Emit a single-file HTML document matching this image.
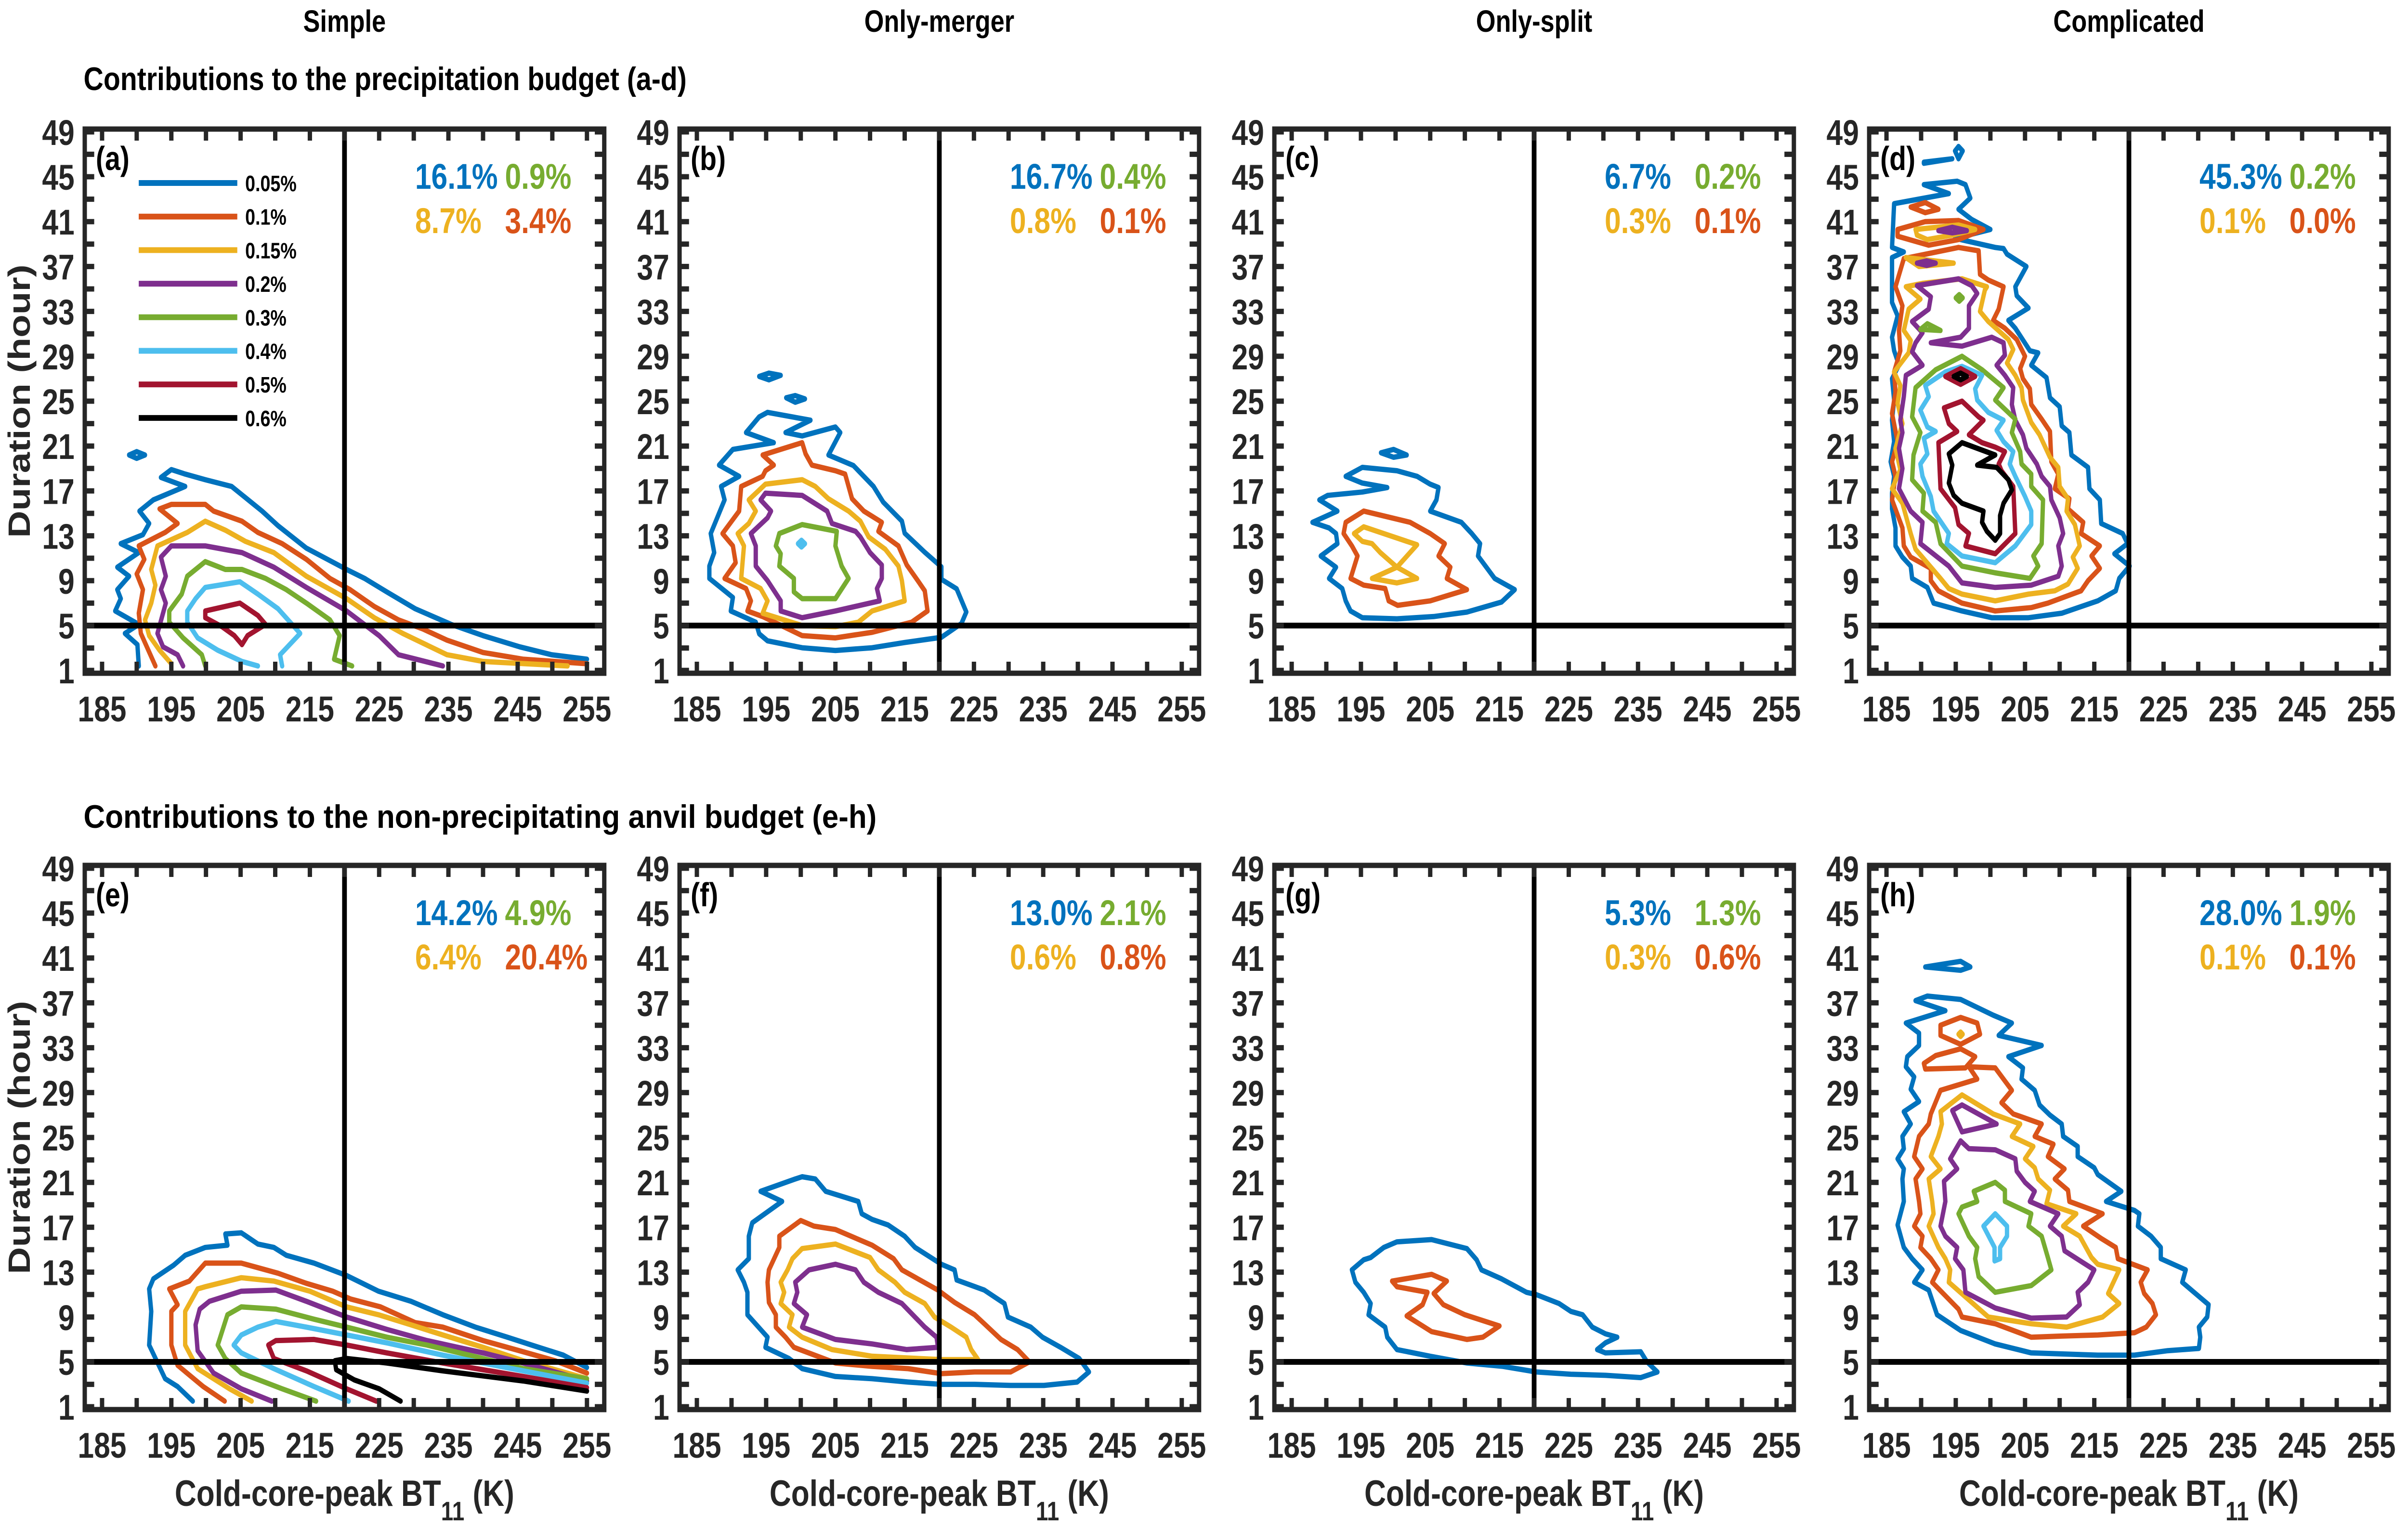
<!DOCTYPE html>
<html><head><meta charset="utf-8">
<style>
html,body{margin:0;padding:0;background:#fff;width:100%;height:100%;overflow:hidden;}
svg{display:block;width:100vw;height:100vh;font-family:"Liberation Sans",Arial,sans-serif;font-weight:bold;overflow:hidden;}
</style></head>
<body>
<svg id="fig" viewBox="0 0 6109 3175" preserveAspectRatio="none" xmlns="http://www.w3.org/2000/svg">
<rect x="0" y="0" width="6109" height="3175" fill="#fff"/>
</svg>
<script>
// ---------- data ----------
const levelLabels = ['0.05%','0.1%','0.15%','0.2%','0.3%','0.4%','0.5%','0.6%'];
const levelColors = ['#0072BD','#D95319','#EDB120','#7E2F8E','#77AC30','#4DBEEE','#A2142F','#000000'];
const columnTitles = ['Simple','Only-merger','Only-split','Complicated'];
const panelLetters = ['(a)','(b)','(c)','(d)','(e)','(f)','(g)','(h)'];
const pctBlue   = ['16.1%','16.7%','6.7%','45.3%','14.2%','13.0%','5.3%','28.0%'];
const pctGreen  = ['0.9%','0.4%','0.2%','0.2%','4.9%','2.1%','1.3%','1.9%'];
const pctYellow = ['8.7%','0.8%','0.3%','0.1%','6.4%','0.6%','0.3%','0.1%'];
const pctOrange = ['3.4%','0.1%','0.1%','0.0%','20.4%','0.8%','0.6%','0.1%'];
const xTicks = [185,195,205,215,225,235,245,255];
const yTicks = [1,5,9,13,17,21,25,29,33,37,41,45,49];
const refX = 220, refY = 5;

// panel (a)
const a0 = [[190.3,1.4],[190.1,3.3],[188.3,4.3],[190.3,5.1],[186.9,6.3],[187.7,7.4],[187.2,8.2],[188.9,9.4],[187.2,10.2],[190.3,11.5],[187.7,12.3],[190.9,13.1],[191.8,14.1],[190.4,15.2],[192.4,16.2],[197.0,17.4],[193.5,18.2],[195.0,18.9],[197.0,18.5],[199.9,18.0],[203.7,17.4],[208.1,15.2],[210.4,13.9],[214.5,11.9],[220.3,10.0],[222.9,9.2],[226.1,8.0],[230.2,6.5],[235.4,5.1],[240.0,4.1],[245.3,3.1],[249.9,2.4],[255,2.0]];
const a0b = [[188.9,20.2],[190,20.5],[191.2,20.2],[190,19.9]];
const a1 = [[192.7,1.4],[190.6,4.3],[190.3,6.1],[190.9,8.2],[190.0,9.6],[191.1,10.9],[190.3,12.1],[194.1,13.3],[195.9,14.1],[193.3,15.4],[195.0,15.8],[199.9,15.8],[201.1,15.2],[205.2,14.3],[207.5,13.3],[211,12.3],[214.5,10.9],[217.9,9.2],[220.8,8.2],[224.3,6.7],[227.8,5.5],[231.3,4.7],[234.8,3.7],[240,2.6],[245.8,2.0],[255,1.6]];
const a2 = [[195,1.6],[193.3,2.8],[191.8,4.1],[191.2,5.5],[192.1,7.0],[192.7,8.6],[192.1,10.0],[193.0,12.1],[197.3,13.3],[199.9,14.3],[202.8,13.5],[205.7,12.5],[209.8,11.5],[214.5,9.4],[220.3,7.4],[224.3,5.7],[228.4,4.3],[234.8,2.4],[240,1.8],[252.2,1.4]];
const a3 = [[196.7,1.4],[195.9,2.4],[193.8,3.1],[193.0,4.3],[194.2,7.0],[193.5,8.2],[194.2,9.4],[193.5,11.1],[195,12.1],[199.9,12.1],[205.2,11.5],[209.8,10.2],[214.5,8.4],[220.3,6.3],[225,4.1],[227.8,2.4],[234.2,1.4]];
const a4 = [[199.9,1.4],[199.4,2.4],[196.7,3.9],[194.7,5.3],[194.7,6.3],[196.5,7.8],[197.3,9.4],[199.9,10.7],[202.8,10.0],[205.2,10.0],[208.6,9.2],[211.6,8.2],[214.5,7.0],[217.9,5.5],[219.3,4.1],[218.5,2.0],[221.1,1.4]];
const a5 = [[207.5,1.4],[205.2,1.8],[201.7,2.8],[198.8,3.9],[197.3,5.3],[197.3,6.3],[198.5,7.4],[199.9,8.4],[204.9,8.9],[207.5,7.8],[210.4,6.5],[213.6,4.3],[210.7,2.4],[211,1.4]];
const a6 = [[199.9,6.3],[204.9,7.0],[207.5,5.9],[208.6,5.1],[206,4.1],[205.2,3.3],[204.1,4.1],[202.3,4.9],[199.9,5.7]];

// panel (b)
const b0 = [[194.0,4.26],[195.2,3.64],[200.2,3.02],[205.0,2.78],[210.3,3.02],[215,3.49],[220.3,3.95],[223.2,5.19],[223.9,6.21],[222.5,8.28],[220.3,9.12],[220.3,10.23],[217.9,11.53],[215,13.23],[214.6,14.31],[211.9,16.0],[210.5,17.4],[207.6,19.26],[204,20.2],[205.7,22.2],[205,22.7],[200.2,21.9],[197.8,22.2],[201.4,23.3],[195.2,24.0],[194,23.6],[192.1,22.2],[196.1,21.3],[190.2,20.7],[188.2,19.3],[191.1,18.3],[188.5,17.4],[189,16.2],[187.0,13.2],[187.5,11.5],[186.8,10.3],[186.8,9.2],[190.2,7.5],[189.9,6.3],[193.5,5.3]];
const b0b = [[194,27.2],[195.4,27.5],[197.1,27.3],[195.4,26.9]];
const b0c = [[197.9,25.3],[199.2,25.5],[200.6,25.2],[199.2,24.9]];
const b1 = [[192.3,6.3],[194.5,5.8],[200.2,4.1],[205.0,3.9],[210.3,4.4],[216.0,5.3],[218.3,6.3],[217.9,8.1],[216.9,9.0],[215.3,10.4],[214.1,12.1],[211.2,13.4],[211.7,14.2],[209.1,15.2],[207.4,16.3],[206.4,18.5],[205,18.8],[201.6,19.3],[200.7,20.3],[200.2,21.3],[194.5,20.2],[196.1,19.3],[194.9,18.8],[194.5,18.3],[191.4,17.4],[191.1,15.2],[188.7,13.2],[190.2,12.1],[190.6,10.6],[189,9.2],[192.1,8.3],[192.8,7.2]];
const b2 = [[194.5,6.1],[200.2,5.0],[205,4.9],[208.3,5.3],[210.3,6.3],[215,7.2],[214.6,9.0],[214.1,10.3],[212.2,11.8],[209.8,12.9],[208.6,14.3],[206.9,15.2],[204,16.3],[202.1,17.4],[200.2,18.0],[194.9,17.6],[192.5,16.2],[193.5,15.2],[192.5,14.1],[190.9,13.2],[191.8,12.1],[191.4,9.2],[194.2,8.3],[195.2,7.2]];
const b3 = [[197.1,6.3],[200.2,5.7],[205,6.3],[211.4,7.2],[211,8.3],[211.7,9.2],[211.7,10.4],[210,11.5],[208.6,12.9],[207.9,13.4],[204.5,14.1],[203.8,15.2],[200.2,16.6],[194.9,16.8],[194.2,16.2],[195.7,15.2],[195.2,14.6],[192.8,13.2],[193.5,12.1],[193.5,10.3],[195.2,9.0],[197.1,7.2]];
const b4 = [[199,8.0],[200.2,7.4],[205,7.4],[206.9,9.2],[205.9,10.3],[205,12.1],[205.2,13.4],[200.2,14.0],[196.9,13.2],[196.4,12.1],[197.1,11.4],[196.9,10.3],[199,9.2]];
const b5 = [[199.6,12.3],[200.1,12.6],[200.6,12.3],[200.1,12.0]];

// panel (c)
const c0 = [[193.5,6.3],[195.2,5.7],[200.2,5.6],[205.5,5.8],[210.3,6.2],[215.3,7.1],[217.2,8.2],[214.3,9.2],[211.9,11.2],[212.2,12.3],[211,13.2],[209.5,14.2],[205,15.2],[205.9,16.2],[206.2,17.3],[205,17.6],[203.1,18.3],[200.2,18.8],[195.2,19.1],[192.8,18.3],[195.2,17.7],[198.8,17.3],[195.2,16.9],[190.2,16.6],[189,16.2],[191.6,15.2],[188,14.2],[190.4,13.7],[191.4,13.2],[191.6,12.3],[189.2,11.2],[191.4,10.2],[190.4,9.2],[192.3,8.3],[192.8,7.2]];
const c0b = [[197.9,20.4],[199.7,20.7],[201.6,20.2],[199.7,20.0]];
const c1 = [[193.5,9.2],[195.4,8.6],[198.5,8.3],[199,7.2],[200.3,6.8],[205,7.2],[210.3,8.2],[207.4,9.2],[207.9,10.2],[206.2,11.2],[207.1,12.3],[205,13.2],[202.1,14.2],[195.4,15.2],[192.8,14.2],[192.5,13.2],[193.7,12.1],[194.5,11.2],[194,10.2]];
const c2 = [[194,13.2],[195.4,13.8],[200.2,12.8],[203.1,12.2],[200.2,10.2],[203.1,9.2],[200.2,8.8],[196.6,9.2],[200.2,10.2],[197.8,11.5],[196.6,12.3],[195.2,12.5]];

// panel (d)
const d0 = [[185.8,15.4],[186.3,13.7],[186.3,12.1],[187.3,11.1],[188.5,10.3],[188.7,9.2],[190.9,8.4],[191.8,7.0],[195.9,6.3],[200.2,5.7],[205.5,5.7],[210.3,6.1],[215.5,7.2],[218.1,8.1],[218.6,9.2],[220.1,10.3],[217.9,11.4],[219.8,12.3],[219.1,13.2],[216,14.1],[215.8,16.2],[214.3,17.2],[214.1,19.1],[211.7,20.2],[211.4,22.2],[210.3,22.8],[210,24.5],[208.6,25.3],[208.1,27.1],[205.9,28.2],[206.9,29.3],[205.7,29.5],[203.6,31.5],[202.6,32.2],[205.5,33.3],[203.8,34.4],[203.6,35.2],[205.2,37.0],[202.4,38.1],[201.9,38.6],[200.7,38.7],[195.7,39.4],[194.9,39.5],[200,40.3],[197.3,41.2],[195.4,42.1],[197.1,43.1],[196.4,44.3],[195.2,44.6],[190.4,44.3],[194,43.5],[186.1,42.6],[185.8,38.7],[187.5,38.3],[185.8,37.8],[185.8,33.8],[186.6,32.6],[185.8,30.7],[186.1,29.5],[186.8,28.2],[185.8,27],[186.1,25.1],[185.8,23.3],[186.1,21.4],[185.6,19.6],[186.1,18.3],[185.8,16.8]];
const d0b = [[194.9,47.3],[195.4,47.7],[196.0,47.3],[195.4,46.6]];
const d0c = [[190.4,46.3],[194.5,46.6],[190.4,46.2]];
const d1 = [[185.8,16.2],[187.3,13.7],[187.5,12.1],[188.5,11.1],[191.4,10.1],[191.4,9.0],[192.5,8.1],[195.9,7.0],[200.7,6.3],[205.9,6.6],[208.3,7.0],[213.1,8.1],[214.1,9.0],[215.8,10.1],[214.6,11.2],[215.8,12.1],[213.1,13.2],[213.4,14.2],[211.2,15.4],[211.4,16.3],[209.3,17.2],[209.8,18.5],[208.8,19.6],[208.6,22.3],[207.4,23.4],[205.9,24.7],[205.7,26.1],[204.7,27.0],[204.3,27.9],[205,29.0],[203.8,30.5],[202.1,31.5],[200.4,32.2],[201.2,33.2],[201.9,35.2],[199.7,35.8],[198.5,36.3],[198.3,38.4],[195.4,38.7],[187.5,37.7],[186.3,35.2],[187.3,33.5],[186.8,31.3],[187,29.5],[186.1,27.6],[186.3,25.8],[185.8,23.9],[186.6,21.4],[185.8,19.6],[186.3,18.3]];
const d1b = [[186.6,40.3],[190.6,41.0],[195.4,41.1],[199,40.3],[195.4,39.4],[191.1,38.9],[186.6,39.7]];
const d1c = [[188.5,42.3],[190.6,42.7],[192.5,42.1],[190.6,41.8]];
const d2 = [[185.8,17.2],[187.3,15.9],[188.5,13.2],[189.2,11.8],[192.8,9.2],[194,8.3],[195.9,7.8],[200.7,7.2],[205.5,7.8],[209.3,8.1],[211.2,8.7],[212.6,10.1],[211.9,11.1],[212.9,12.1],[212.2,14.0],[211,15.2],[211.2,16.3],[210,17.4],[209.8,19.1],[208.6,20.0],[207.1,22.0],[205.9,23.1],[204.7,25.1],[204.5,26.2],[203.6,27.3],[202.4,28.4],[203.3,29.6],[202.6,30.5],[199.7,32.1],[198.5,33.0],[199.2,34.9],[199.5,35.2],[195.9,35.9],[190.2,35.5],[187.8,35.2],[189.9,34.1],[188.2,33.2],[187.5,31.3],[188.5,30.4],[188.2,29.3],[186.1,27.6],[187,26.4],[186.6,24.8],[187.3,23.0],[186.3,20.8],[187,18.9]];
const d2b = [[189.2,40.3],[195.4,40.7],[197.8,40.3],[194.5,39.8],[190.9,39.4],[189.4,39.8]];
const d2c = [[187.8,37.8],[194.7,37.3],[189.7,37.0]];
const d3 = [[186.8,17.2],[188.5,15.2],[190.2,14.2],[189.9,12.3],[194,10.3],[195.9,8.8],[200.7,8.4],[205.9,8.6],[209.8,9.4],[210.3,10.3],[209.8,12.1],[210.5,13.2],[210,14.6],[208.8,16.2],[208.6,17.4],[207.4,18.3],[206.7,19.4],[205.2,20.8],[204.7,22.0],[203.6,23.3],[203.1,24.7],[203.3,26.2],[202.1,27.3],[200.9,28.2],[202.1,29.1],[201.9,30.2],[200.2,30.7],[195.9,29.9],[191.4,30.2],[195.7,30.7],[196.9,31.5],[196.9,33.5],[198.1,34.6],[197.3,35.3],[195.4,35.9],[189.4,35.3],[191.4,34.3],[191.1,33.2],[188.7,32.1],[190.2,31.1],[189.2,30.2],[188.7,29.4],[190.2,28.2],[187.8,27.3],[187.5,25.4],[187,23.3],[187.3,22.2],[186.8,20.8],[187.3,19.0]];
const d3b = [[192.5,40.2],[194.5,40.5],[196.6,40.2],[194.5,40.0]];
const d3c = [[189.4,37.3],[190.8,37.5],[192.1,37.3],[190.8,37.1]];
const d4 = [[188.7,18.0],[190.4,16.8],[190.2,15.2],[192.1,14.2],[192.8,12.3],[195.9,10.3],[200.7,9.7],[205.7,9.2],[206.9,10.3],[206.2,11.2],[207.4,12.3],[207.6,16.2],[205.9,17.4],[205.9,18.5],[204.5,19.4],[204.3,20.5],[203.1,22.2],[203.6,23.4],[200.7,25.1],[201.9,26.2],[198.8,27.8],[195.9,29.0],[192.1,27.8],[189.2,26.2],[188.7,23.6],[189.9,22.2],[188.9,20.2]];
const d4b = [[195.0,34.2],[195.5,34.5],[196.0,34.2],[195.5,33.9]];
const d4c = [[189.9,31.4],[190.9,31.9],[192.8,31.3]];
const d5 = [[190.2,18.3],[191.4,16.5],[191.8,15.2],[194,13.2],[193.7,12.3],[195.9,11.2],[200.7,10.6],[203.6,12.1],[205.9,14.0],[205.9,15.2],[205,16.5],[203.6,18.3],[202.8,19.4],[203.3,20.5],[201.9,21.4],[200.9,22.4],[201.9,23.3],[199.7,24.0],[198.1,25.1],[197.8,26.1],[198.8,27.3],[195.9,28.1],[193.5,27.6],[190.6,26.4],[191.1,25.4],[189.9,24.2],[190.9,22.7],[192.1,22.3],[190.4,21.7],[190.9,20.3],[189.9,19.4]];
const d6 = [[192.5,21.3],[192.8,17.2],[194.9,15.5],[195.4,14.0],[196.9,13.2],[196.4,12.1],[200.7,11.4],[203.6,13.2],[203.3,17.4],[201.6,18.8],[201.2,19.4],[202.1,20.5],[200.7,20.9],[198.8,21.3],[196.9,22.0],[199,23.3],[198.3,23.6],[195.9,25.0],[193.3,24.4],[194,23.0],[195.2,22.3]];
const d6b = [[193.5,27.2],[195.7,27.9],[197.8,27.2],[195.7,26.5]];
const d7 = [[194,20.3],[195.9,21.3],[200.7,20.2],[198.1,19.3],[200.9,19.1],[202.6,18.0],[203.1,17.1],[201.9,15.9],[201.4,14.8],[201.4,13.2],[200.7,12.6],[199.5,13.4],[198.8,14.2],[199,15.2],[195.9,15.9],[194.7,16.6],[194,17.7],[194.5,19.3]];
const d7b = [[194.7,27.2],[195.7,27.5],[196.6,27.2],[195.7,26.9]];

// panel (e)
const e0 = [[198.1,1.5],[195.9,2.8],[194.1,3.5],[191.8,6.5],[192.1,9.5],[191.8,11.5],[192.4,12.4],[195.3,13.6],[197,14.5],[199.9,15.2],[203.1,15.4],[202.8,16.4],[205.1,16.5],[207.5,15.5],[209.8,15.2],[211.6,14.5],[215.6,13.8],[220.3,12.7],[224.9,11.3],[229.6,10.4],[234.2,9.2],[238.9,8.1],[243.5,7.2],[247,6.5],[251.6,5.6],[255,4.5]];
const e1 = [[202.7,1.5],[199.6,2.8],[195.9,4.7],[195,6.5],[195,9.5],[195.9,10.1],[194.7,11.5],[197.6,12.2],[199.9,13.8],[205.1,13.8],[210.4,12.9],[214.5,12.0],[218.3,11.3],[220.9,10.6],[225.2,9.9],[230.2,8.5],[234.2,8.1],[240,6.9],[245.8,5.9],[250.4,5.1],[255,4.0]];
const e2 = [[206.6,1.5],[203.4,2.6],[198.8,4.4],[197,6.5],[197,9.5],[198.8,11.5],[199.9,11.7],[205.1,12.5],[209.8,12.2],[215,11.3],[220.3,9.9],[224.9,9.2],[229.6,8.3],[234.2,7.4],[240,6.3],[245.8,5.1],[255,3.5]];
const e3 = [[209.5,1.5],[205.1,2.6],[201.1,4.0],[198.8,6.0],[198.5,8.3],[199.1,9.7],[200.5,10.4],[205.1,11.3],[210.1,11.4],[214.5,10.4],[220.3,9.0],[226.1,7.9],[231.9,6.9],[240,5.8],[245.8,4.9],[255,3.3]];
const e4 = [[215.9,1.5],[211,2.6],[205.1,4.0],[202.8,5.3],[201.7,6.5],[203.1,9.2],[205.1,9.9],[210.1,9.7],[215.6,8.8],[220.3,8.1],[226.1,7.2],[231.9,6.5],[240,5.3],[245.8,4.4],[255,3.5]];
const e5 = [[220.6,1.5],[215.6,2.8],[209.8,4.4],[205.1,5.8],[204,6.5],[205.1,7.4],[207.5,8.1],[210.1,8.6],[214.5,8.1],[220.3,7.4],[226.1,6.7],[234.2,5.6],[245.8,4.2],[255,3.1]];
const e6 = [[224.6,1.5],[220.3,2.6],[214.5,4.2],[209.8,5.3],[209,6.5],[210.1,6.9],[215.6,7.0],[220.3,6.5],[226.1,5.8],[234.2,4.9],[245.8,3.7],[255,2.7]];
const e7 = [[228.1,1.5],[225.0,2.6],[221.4,3.4],[218.8,4.3],[218.6,5.1],[220.3,5.3],[226.1,4.9],[234.2,4.2],[245.8,3.3],[255,2.4]];

// panel (f)
const f0 = [[194.9,6.3],[198.3,5.3],[200.2,4.4],[205,3.7],[210.3,3.5],[215.5,3.2],[220.3,3.0],[225.1,3.0],[230.3,2.9],[235.1,2.9],[239.9,3.2],[241.6,4.1],[240.2,5.3],[237.5,6.3],[234.9,7.2],[233.2,8.1],[229.9,9.0],[229.4,10.2],[226.5,11.4],[222.5,12.3],[222.2,13.2],[220.3,13.7],[216.5,15.2],[215,16.2],[212.6,17.2],[210.3,17.7],[208.8,18.2],[208.3,19.3],[203.6,20.2],[202.1,21.3],[200.2,21.5],[199.2,21.3],[194.2,20.2],[197.3,19.3],[193,17.4],[192.5,16.2],[192.5,14.2],[190.9,13.2],[191.8,12.1],[192.3,11.2],[192.3,9.2],[195.2,7.2]];
const f1 = [[199,6.3],[205,4.9],[210.3,4.6],[215.5,4.4],[220.3,3.95],[225.1,4.1],[230.3,4.1],[233,5.0],[231.3,6.1],[228.9,7.0],[226.5,8.4],[225.1,9.2],[222.2,10.3],[219.8,11.4],[214.6,13.2],[213.4,14.2],[210.3,15.4],[205,16.8],[201.9,17.1],[200,17.6],[196.9,16.2],[196.9,15.2],[195.4,13.2],[195.2,12.1],[195.4,10.3],[196.4,9.2],[196.4,8.1],[197.8,7.2]];
const f2 = [[198.3,8.1],[200.2,7.2],[204.5,6.1],[210.3,5.5],[220.3,5.2],[225.6,5.2],[224.6,6.1],[223.9,7.2],[221.7,8.1],[219.3,9.0],[217.9,10.2],[215,11.2],[213.6,12.1],[211.2,13.2],[210,14.3],[205,15.5],[200.2,15.1],[198.8,14.2],[198.1,13.2],[197.1,12.1],[197.6,11.2],[197.1,10.2],[198.8,9.2]];
const f3 = [[200.2,8.1],[205,7.0],[210.3,6.6],[215.3,6.1],[219.8,6.3],[219.6,7.2],[217.9,8.1],[214.6,10.2],[211.2,11.2],[209.1,12.1],[207.9,13.2],[205,13.7],[201.2,13.2],[199.2,12.1],[199.5,11.2],[199,10.2],[200.9,9.2]];

// panel (g)
const g0 = [[193.7,13.2],[195.4,14.1],[196.4,14.3],[198.3,15.2],[200.2,15.7],[205.2,15.9],[210.3,15.1],[211.7,14.1],[212.4,13.2],[215.3,12.4],[218.9,11.2],[220.3,11.0],[223.6,10.2],[225.3,9.5],[227,9.2],[228.4,8.1],[230.3,7.5],[232,7.2],[230.3,6.7],[229.1,6.1],[230.3,5.8],[235.4,5.9],[236.3,5.0],[237.8,4.1],[235.4,3.6],[230.3,3.8],[225.3,3.9],[220.3,4.1],[215.5,4.6],[210.3,4.9],[205,5.5],[200.2,6.1],[198.8,7.2],[198.5,8.1],[196.1,9.2],[196.4,10.2],[195.4,11.2],[194.2,12.1]];
const g1 = [[199.5,12.2],[205.2,12.8],[207.4,12.2],[205.5,11.1],[206.9,10.1],[210,9.2],[215,8.2],[212.6,7.2],[210.3,7.0],[205.2,7.7],[201.6,9.1],[203.9,10.1],[204.6,11.2],[200.2,11.7]];

// panel (h)
const h0 = [[187.5,15.2],[188.7,14.2],[190.2,13.2],[189,12.1],[191.1,11.4],[192.3,9.2],[195.7,7.8],[200.7,6.6],[205.9,5.8],[215.5,5.6],[220.8,5.6],[225.6,6.0],[230.1,6.2],[230.3,7.2],[230.1,8.1],[231.3,9.0],[231.5,10.1],[229.4,11.2],[227.7,12.1],[228.2,13.2],[224.6,14.2],[224.6,15.2],[223.2,16.2],[221.3,17.1],[221.5,18.2],[220.8,18.5],[216.7,19.3],[218.9,20.2],[215.5,21.7],[215,22.3],[212.6,23.3],[212.6,24.2],[210.5,25.1],[210.3,26.2],[208.6,27.0],[207.1,27.9],[206.4,29.2],[204.5,30.2],[204.7,31.2],[202.6,32.2],[207.4,33.2],[201.2,34.1],[203.1,35.2],[200.4,35.9],[195.7,37.3],[190.9,37.6],[189.2,37.2],[193.5,36.3],[187.8,35.2],[189.7,34.3],[189.7,33.2],[188,32.2],[187.8,31.3],[189,30.4],[188.5,29.3],[189.7,28.2],[187.5,27.3],[188.5,26.2],[187.3,25.1],[187.5,24.0],[186.6,23.1],[187.5,22.2],[187.3,21.3],[187.5,19.3],[186.6,17.2]];
const h0b = [[190.6,40.2],[195.7,40.7],[197.1,40.2],[195.7,39.9]];
const h1 = [[191.6,12.1],[195.4,9.7],[195.9,9.0],[200.7,8.4],[205.9,7.2],[210.3,7.3],[215.5,7.4],[220.8,7.6],[222.5,8.1],[223.9,9.2],[223.4,10.2],[222.2,11.1],[221.7,12.1],[222.7,13.2],[218.4,14.2],[218.1,15.2],[216,16.0],[213.4,17.1],[216.2,18.2],[211.4,19.3],[211.2,20.3],[209.3,21.3],[210.7,22.2],[208.3,23.3],[209.1,24.4],[206.4,25.1],[207.4,26.2],[203.3,27.1],[201.6,28.1],[203.1,29.2],[201.9,30.2],[200.7,31.2],[196.9,31.3],[198.1,30.2],[192.8,29.2],[191.4,27.1],[191.1,26.2],[189.7,25.1],[189,23.3],[190.2,22.2],[189.2,21.3],[189.7,19.3],[189.9,18.2],[189,17.1],[190.2,16.2],[189.9,15.2],[191.4,14.2],[192.5,13.2]];
const h1b = [[190.6,31.1],[190.4,31.6],[192.1,32.3],[195.7,32.9],[197.8,32.2],[196.4,31.2]];
const h1c = [[192.8,35.0],[192.8,34.1],[195.7,33.3],[198.5,34.2],[198.1,35.2],[195.7,35.7]];
const h2 = [[194,12.1],[199.7,9.0],[205.9,8.4],[211,8.1],[216.2,9.0],[218.6,10.2],[217,11.1],[218.6,13.2],[215.5,13.7],[214.6,14.3],[212.9,16.2],[210.5,17.1],[212.4,18.2],[208.1,19.1],[208.6,20.3],[206.9,21.3],[206.4,22.3],[205,23.1],[206.2,24.2],[203.1,25.1],[204.3,26.2],[200.4,27.1],[195.9,28.8],[192.8,27.3],[193,26.2],[192.5,25.1],[191.4,23.3],[192.8,22.2],[191.1,21.3],[191.6,19.3],[191.8,18.2],[191.1,17.1],[192.5,15.2],[193.5,14.2],[194.2,13.2]];
const h2b = [[195.4,34.2],[195.7,34.4],[196.0,34.2],[195.7,34.0]];
const h3 = [[196.4,11.2],[200.7,9.8],[205.9,8.9],[211,9.0],[212.9,10.1],[212.6,11.2],[214.1,12.1],[215,13.2],[210.7,14.9],[210.3,16.2],[208.6,17.1],[209.8,18.2],[205.7,19.3],[206.4,20.2],[205,21.0],[203.8,22.0],[203.6,23.1],[200.7,23.9],[196.9,24.0],[195.7,24.7],[194.2,23.1],[195.2,22.2],[193.3,21.1],[193.5,19.3],[192.8,17.1],[193.5,16.2],[195.2,15.2],[194.9,14.2],[196.1,13.2]];
const h3b = [[194.5,27.4],[195.9,27.9],[200.9,26.2],[195.9,25.5]];
const h4 = [[198.3,12.6],[200.7,11.2],[205.9,11.8],[208.8,13.2],[208.3,14.3],[207.4,16.2],[205.5,17.1],[205.9,18.2],[202.1,19.3],[202.1,20.3],[200.7,21.0],[197.6,20.2],[198.1,19.3],[195.9,18.8],[195.4,18.2],[196.9,16.2],[198.1,15.2],[197.8,14.2]];
const h5 = [[199,17.1],[200.7,18.2],[202.4,17.1],[202.4,16.2],[201.4,15.2],[201.4,14.2],[200.6,14.0],[200.6,15.2]];

// [points, level index, closed]
const panelContours = [
  [[a0,0,0],[a0b,0,1],[a1,1,0],[a2,2,0],[a3,3,0],[a4,4,0],[a5,5,0],[a6,6,1]],
  [[b0,0,1],[b0b,0,1],[b0c,0,1],[b1,1,1],[b2,2,1],[b3,3,1],[b4,4,1],[b5,5,1]],
  [[c0,0,1],[c0b,0,1],[c1,1,1],[c2,2,1]],
  [[d0,0,1],[d0b,0,1],[d0c,0,1],[d1,1,1],[d1b,1,1],[d1c,1,1],[d2,2,1],[d2b,2,1],[d2c,2,1],[d3,3,1],[d3b,3,1],[d3c,3,1],[d4,4,1],[d4b,4,1],[d4c,4,1],[d5,5,1],[d6,6,1],[d6b,6,1],[d7,7,1],[d7b,7,1]],
  [[e0,0,0],[e1,1,0],[e2,2,0],[e3,3,0],[e4,4,0],[e5,5,0],[e6,6,0],[e7,7,0]],
  [[f0,0,1],[f1,1,1],[f2,2,1],[f3,3,1]],
  [[g0,0,1],[g1,1,1]],
  [[h0,0,1],[h0b,0,1],[h1,1,1],[h1b,1,1],[h1c,1,1],[h2,2,1],[h2b,2,1],[h3,3,1],[h3b,3,1],[h4,4,1],[h5,5,1]]
];

// ---------- layout ----------
const NS = 'http://www.w3.org/2000/svg';
const svg = document.getElementById('fig');
const PL = [215,1724,3233,4742], PT = [268,1797], PW = 1318, PH = 1130;
const XMIN = 182.5, XMAX = 257.5, YMIN = 0.75, YMAX = 49.25;
const AX = '#262626';
function mk(tag, attrs, parent){ const e=document.createElementNS(NS,tag); for(const k in attrs) e.setAttribute(k,attrs[k]); (parent||svg).appendChild(e); return e; }
function txt(s, attrs, parent){ const e=mk('text',attrs,parent); e.textContent=s; return e; }

columnTitles.forEach((t,i)=>{
  const e = txt(t,{x:PL[i]+PW/2,y:66,'font-size':64,'text-anchor':'middle',fill:'#000'});
  
  
});
let st = txt('Contributions to the precipitation budget (a-d)',{x:212,y:187,'font-size':68,fill:'#000',textLength:1530,lengthAdjust:'spacingAndGlyphs'});


st = txt('Contributions to the non-precipitating anvil budget  (e-h)',{x:212,y:1719,'font-size':68,fill:'#000',textLength:2012,lengthAdjust:'spacingAndGlyphs','xml:space':'preserve'});



for(let p=0;p<8;p++){
  const col = p%4, row = Math.floor(p/4);
  const L = PL[col], T = PT[row];
  const sx = v => L + (v-XMIN)/(XMAX-XMIN)*PW;
  const sy = v => T + (YMAX-v)/(YMAX-YMIN)*PH;
  const g = mk('g',{});
  
  
  const cid = 'clip'+p;
  const cp = mk('clipPath',{id:cid},g);
  mk('rect',{x:L,y:T,width:PW,height:PH},cp);

  const cg = mk('g',{'clip-path':'url(#'+cid+')'},g);
  panelContours[p].forEach(([pts,lev,closed],k)=>{
    const d = pts.map((q,i)=>(i?'L':'M')+sx(q[0]).toFixed(1)+' '+sy(q[1]).toFixed(1)).join(' ')+(closed?' Z':'');
    const path = mk('path',{d:d,fill:'none',stroke:levelColors[lev],'stroke-width':11,'stroke-linejoin':'round','stroke-linecap':'round'},cg);
    
    
  });
  const rv = mk('line',{x1:sx(refX),x2:sx(refX),y1:T,y2:T+PH,stroke:'#000','stroke-width':12},g);
  
  
  const rh = mk('line',{x1:L,x2:L+PW,y1:sy(refY),y2:sy(refY),stroke:'#000','stroke-width':12},g);
  
  

  let td='';
  for(let v=185; v<=255; v+=5){ const x=sx(v); td+=`M${x} ${T+PH}V${T+PH-24}M${x} ${T}V${T+24}`; }
  for(let v=1; v<=49; v+=2){ const y=sy(v); td+=`M${L} ${y}H${L+24}M${L+PW} ${y}H${L+PW-24}`; }
  const tk = mk('path',{d:td,stroke:AX,'stroke-width':11,fill:'none'},g);
  
  
  const fr = mk('rect',{x:L,y:T,width:PW,height:PH,fill:'none',stroke:AX,'stroke-width':11},g);
  
  

  xTicks.forEach(v=>{
    const e = txt(String(v),{x:sx(v),y:T+PH+100,'font-size':74,'text-anchor':'middle',fill:AX},g);
    
    
  });
  yTicks.forEach(v=>{
    const e = txt(String(v),{x:L-26,y:sy(v)+27,'font-size':74,'text-anchor':'end',fill:AX},g);
    
    
  });

  const pl = txt(panelLetters[p],{x:L+28,y:T+85,'font-size':70,fill:'#000'},g);
  
  

  const pcs = [[pctBlue[p],levelColors[0],838,124],[pctGreen[p],levelColors[4],1066,124],[pctYellow[p],levelColors[2],838,216],[pctOrange[p],levelColors[1],1066,216]];
  pcs.forEach(([s,c,dx,dy])=>{
    const e = txt(s,{x:L+dx,y:T+dy,'font-size':74,fill:c},g);
    
    
  });

  if(col===0){
    const cy = T+PH/2;
    const yt = txt('Duration (hour)',{x:48,y:cy,'font-size':78,'text-anchor':'middle',fill:AX,transform:`rotate(-90 48 ${cy}) translate(0 28)`},g);
    
    
  }
  if(row===1){
    const xt = mk('text',{x:L+PW/2,y:3127,'font-size':76,'text-anchor':'middle',fill:AX},g);
    
    
    const t1=mk('tspan',{},xt); t1.textContent='Cold-core-peak BT';
    const t2=mk('tspan',{dy:30,'font-size':56},xt); t2.textContent='11';
    const t3=mk('tspan',{dy:-30},xt); t3.textContent=' (K)';
  }
  if(p===0){
    const lg = mk('g',{},g);
    
    
    levelLabels.forEach((lab,i)=>{
      const y = T+112+i*69.7;
      const ln = mk('line',{x1:352,x2:602,y1:y,y2:y,stroke:levelColors[i],'stroke-width':12},lg);
      
      
      const lt = txt(lab,{x:622,y:y+17,'font-size':46,fill:'#000'},lg);
      
      
    });
  }
}
</script>
</body></html>
